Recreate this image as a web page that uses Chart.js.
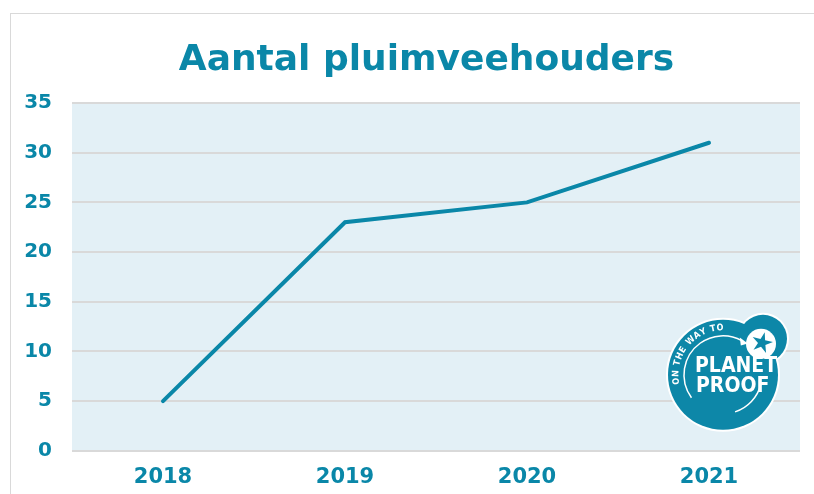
<!DOCTYPE html>
<html>
<head>
<meta charset="utf-8">
<script src="https://cdn.jsdelivr.net/npm/chart.js@4.4.1/dist/chart.umd.min.js"></script>
<style>
  html, body { margin: 0; padding: 0; background: #fff; overflow: hidden; }
  #frame { position: absolute; left: 10px; top: 13px; width: 900px; height: 600px;
           border-left: 1px solid #d9d9d9; border-top: 1px solid #d9d9d9; }
  #wrap { position: absolute; left: 0; top: 0; width: 831px; height: 490px; }
</style>
</head>
<body>
<div id="frame"><div id="wrap"><canvas id="lineChart"></canvas></div></div>
<script>
// data
let years = ['2018', '2019', '2020', '2021']
let holders = [5, 23, 25, 31]
let yTicks = [0, 5, 10, 15, 20, 25, 30, 35]
let titleText = 'Aantal pluimveehouders'

let teal = '#0a87a8'

// light blue plot background
let plotBg = {
  id: 'plotBg',
  beforeDraw(chart) {
    let a = chart.chartArea, c = chart.ctx
    c.save()
    c.fillStyle = '#e3f0f6'
    c.fillRect(a.left, a.top, a.right - a.left, a.bottom - a.top)
    c.restore()
  }
}

// title sits a bit left of the plot centre, like the original
let titlePlug = {
  id: 'titlePlug',
  afterDraw(chart) {
    let c = chart.ctx
    c.save()
    c.fillStyle = teal
    c.font = 'bold 36px "DejaVu Sans"'
    c.textAlign = 'center'
    c.textBaseline = 'alphabetic'
    c.fillText(titleText, chart.width / 2, 56)
    c.restore()
  }
}

// "on the way to planetproof" badge
let badge = {
  id: 'badge',
  afterDatasetsDraw(chart) {
    let a = chart.chartArea, c = chart.ctx
    let cx = a.right - 77, cy = a.bottom - 76
    let sx = a.right - 37, sy = a.bottom - 112
    let blue = '#0d87a8'
    c.save()
    // white rim
    c.fillStyle = '#ffffff'
    c.beginPath(); c.arc(cx, cy, 57, 0, Math.PI * 2); c.fill()
    c.beginPath(); c.arc(sx, sy, 26, 0, Math.PI * 2); c.fill()
    c.fillStyle = blue
    c.beginPath(); c.arc(cx, cy, 55, 0, Math.PI * 2); c.fill()
    c.beginPath(); c.arc(sx, sy, 24, 0, Math.PI * 2); c.fill()
    // white blob with starfish
    c.fillStyle = '#ffffff'
    c.beginPath(); c.arc(sx - 2, sy + 5, 15, 0, Math.PI * 2); c.fill()
    c.fillStyle = blue
    c.beginPath()
    for (let i = 0; i < 10; i++) {
      let r = i % 2 ? 4 : 11
      let ang = -Math.PI / 2 + i * Math.PI / 5 + 0.25
      let px = sx - 1 + r * Math.cos(ang), py = sy + 4 + r * Math.sin(ang)
      if (i == 0) c.moveTo(px, py); else c.lineTo(px, py)
    }
    c.closePath(); c.fill()
    // inner arcs with arrow
    c.strokeStyle = '#ffffff'
    c.lineWidth = 1.5
    c.beginPath(); c.arc(cx, cy, 39, Math.PI * 0.8, Math.PI * 1.66); c.stroke()
    c.beginPath(); c.arc(cx, cy, 39, Math.PI * 0.08, Math.PI * 0.4); c.stroke()
    let ah = Math.PI * 1.66
    let hx = cx + 39 * Math.cos(ah), hy = cy + 39 * Math.sin(ah)
    c.fillStyle = '#ffffff'
    c.beginPath(); c.moveTo(hx + 6, hy + 3); c.lineTo(hx - 2, hy - 3); c.lineTo(hx - 1, hy + 5); c.closePath(); c.fill()
    // curved text
    let txt = 'ON THE WAY TO'
    c.font = 'bold 9px "DejaVu Sans Condensed", "DejaVu Sans"'
    c.textAlign = 'center'
    c.textBaseline = 'middle'
    let ang = Math.PI * 0.93
    for (let ch of txt) {
      let w = c.measureText(ch).width + 0.9
      ang += (w / 2) / 47
      c.save()
      c.translate(cx + 47 * Math.cos(ang), cy + 47 * Math.sin(ang))
      c.rotate(ang + Math.PI / 2)
      c.fillText(ch, 0, 0)
      c.restore()
      ang += (w / 2) / 47
    }
    // main words
    c.textAlign = 'left'
    c.font = 'bold 21px "DejaVu Sans Condensed", "DejaVu Sans"'
    c.fillText('PLANET', cx - 28, cy - 8)
    c.fillText('PROOF', cx - 27, cy + 12)
    c.restore()
  }
}

let ctx = document.getElementById('lineChart').getContext('2d')
let chart = new Chart(ctx, {
  type: 'line',
  data: {
    labels: years,
    datasets: [{
      label: titleText,
      data: holders,
      borderColor: teal,
      borderWidth: 4,
      borderCapStyle: 'round',
      pointRadius: 0,
      tension: 0
    }]
  },
  options: {
    responsive: true,
    maintainAspectRatio: false,
    animation: false,
    layout: { padding: { left: 11, right: 42, top: 89, bottom: 0 } },
    plugins: {
      legend: { display: false },
      tooltip: { enabled: false },
      title: { display: false }
    },
    scales: {
      x: {
        offset: true,
        grid: { display: false, drawTicks: false },
        border: { display: false },
        ticks: {
          color: teal,
          padding: 14,
          font: { family: '"DejaVu Sans"', size: 21, weight: 'bold' }
        }
      },
      y: {
        min: 0,
        max: 35,
        afterFit(s) { s.width = 50 },
        afterBuildTicks(s) { s.ticks = yTicks.map(v => ({ value: v })) },
        grid: { color: '#d9d9d9', lineWidth: 2, drawTicks: false },
        border: { display: false },
        ticks: {
          color: teal,
          padding: 20,
          font: { family: '"DejaVu Sans"', size: 20, weight: 'bold' }
        }
      }
    }
  },
  plugins: [plotBg, badge, titlePlug]
})
</script>
</body>
</html>
